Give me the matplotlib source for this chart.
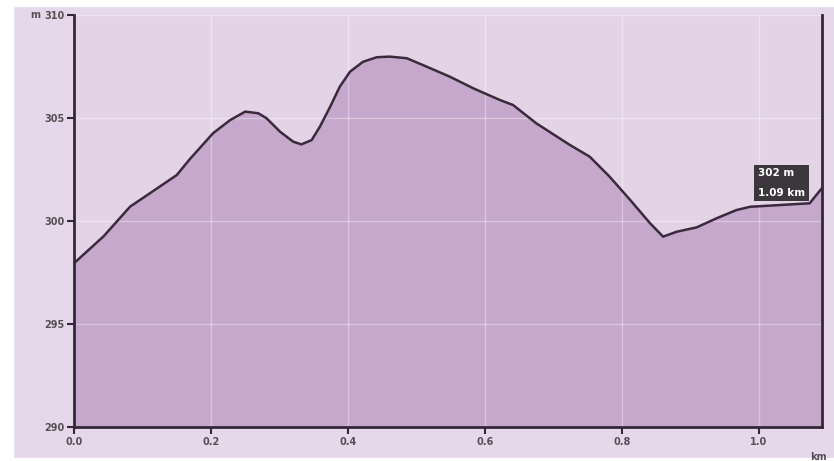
import matplotlib
matplotlib.use("Agg")
import matplotlib.pyplot as plt
from matplotlib.patches import Rectangle

# distance (km) and elevation (m) read from the profile
distance_km = [0.0, 0.043, 0.082, 0.111, 0.150, 0.169, 0.203, 0.228, 0.250, 0.269,
               0.281, 0.301, 0.320, 0.332, 0.347, 0.359, 0.374, 0.388, 0.403, 0.422,
               0.442, 0.461, 0.486, 0.515, 0.549, 0.583, 0.622, 0.641, 0.675, 0.724,
               0.753, 0.782, 0.812, 0.841, 0.860, 0.880, 0.909, 0.938, 0.967, 0.987,
               1.074, 1.092]
elevation_m = [297.95, 299.25, 300.7, 301.35, 302.23, 303.0, 304.26, 304.9, 305.31, 305.23,
               304.99, 304.33, 303.85, 303.72, 303.93, 304.58, 305.55, 306.52, 307.25, 307.73,
               307.95, 307.98, 307.9, 307.49, 307.0, 306.44, 305.87, 305.63, 304.74, 303.69,
               303.12, 302.15, 301.02, 299.89, 299.24, 299.48, 299.69, 300.13, 300.53, 300.69,
               300.86, 301.6]

x_ticks = [0.0, 0.2, 0.4, 0.6, 0.8, 1.0]
x_tick_labels = ["0.0", "0.2", "0.4", "0.6", "0.8", "1.0"]
y_ticks = [290, 295, 300, 305, 310]
y_tick_labels = ["290", "295", "300", "305", "310"]
tooltip_lines = ["302 m", "1.09 km"]

W, H = 834, 461
fig = plt.figure(figsize=(W / 100, H / 100), dpi=100, facecolor="#e6d8ea")
# white border strips
fig.patches.append(Rectangle((0, 0), 13 / W, 1, transform=fig.transFigure, color="white", zorder=-5))
fig.patches.append(Rectangle((0, 1 - 6 / H), 1, 6 / H, transform=fig.transFigure, color="white", zorder=-5))
fig.patches.append(Rectangle((0, 0), 1, 3 / H, transform=fig.transFigure, color="white", zorder=-5))

left, right, top, bottom = 74, 822, 15, 427
ax = fig.add_axes([left / W, 1 - bottom / H, (right - left) / W, (bottom - top) / H])
ax.set_facecolor("#e4d3e7")

ax.fill_between(distance_km, elevation_m, 290, color="#c5a8cb", zorder=1, linewidth=0)
ax.plot(distance_km, elevation_m, color="#3a2a3c", linewidth=1.8, zorder=3,
        solid_joinstyle="round")

ax.set_xlim(0, distance_km[-1])
ax.set_ylim(290, 310)
ax.set_xticks(x_ticks)
ax.set_xticklabels(x_tick_labels)
ax.set_yticks(y_ticks)
ax.set_yticklabels(y_tick_labels)

ax.grid(True, color="white", alpha=0.35, linewidth=1.0, zorder=2)
ax.set_axisbelow(False)
for sp in ["top", "right"]:
    ax.spines[sp].set_visible(False)
for sp in ["left", "bottom"]:
    ax.spines[sp].set_color("#35263a")
    ax.spines[sp].set_linewidth(2.0)
    ax.spines[sp].set_zorder(4)

ax.tick_params(axis="both", colors="#35263a", length=5, width=1.5, labelsize=7,
               labelcolor="#555055", pad=2)
for lbl in ax.get_xticklabels() + ax.get_yticklabels():
    lbl.set_fontweight("bold")

# hover cursor line at the last point
ax.axvline(distance_km[-1], color="#35263a", linewidth=2.0, zorder=5, clip_on=False)

# axis unit labels
fig.text(30 / W, 1 - 15 / H, "m", fontsize=7, fontweight="bold", color="#555055",
         ha="left", va="center")
fig.text(818 / W, 1 - 457 / H, "km", fontsize=7, fontweight="bold", color="#555055",
         ha="center", va="center")

# tooltip
ax.annotate("\n".join(tooltip_lines), xy=(distance_km[-1], elevation_m[-1]),
            xytext=(-64, 5), textcoords="offset pixels", ha="left", va="center",
            fontsize=7.5, fontweight="bold", color="white", linespacing=2.2,
            bbox=dict(boxstyle="square,pad=0.35", facecolor="#2e2a2e", edgecolor="none", alpha=0.92),
            zorder=6, annotation_clip=False)

fig.savefig("out.png", dpi=100, facecolor=fig.get_facecolor())
